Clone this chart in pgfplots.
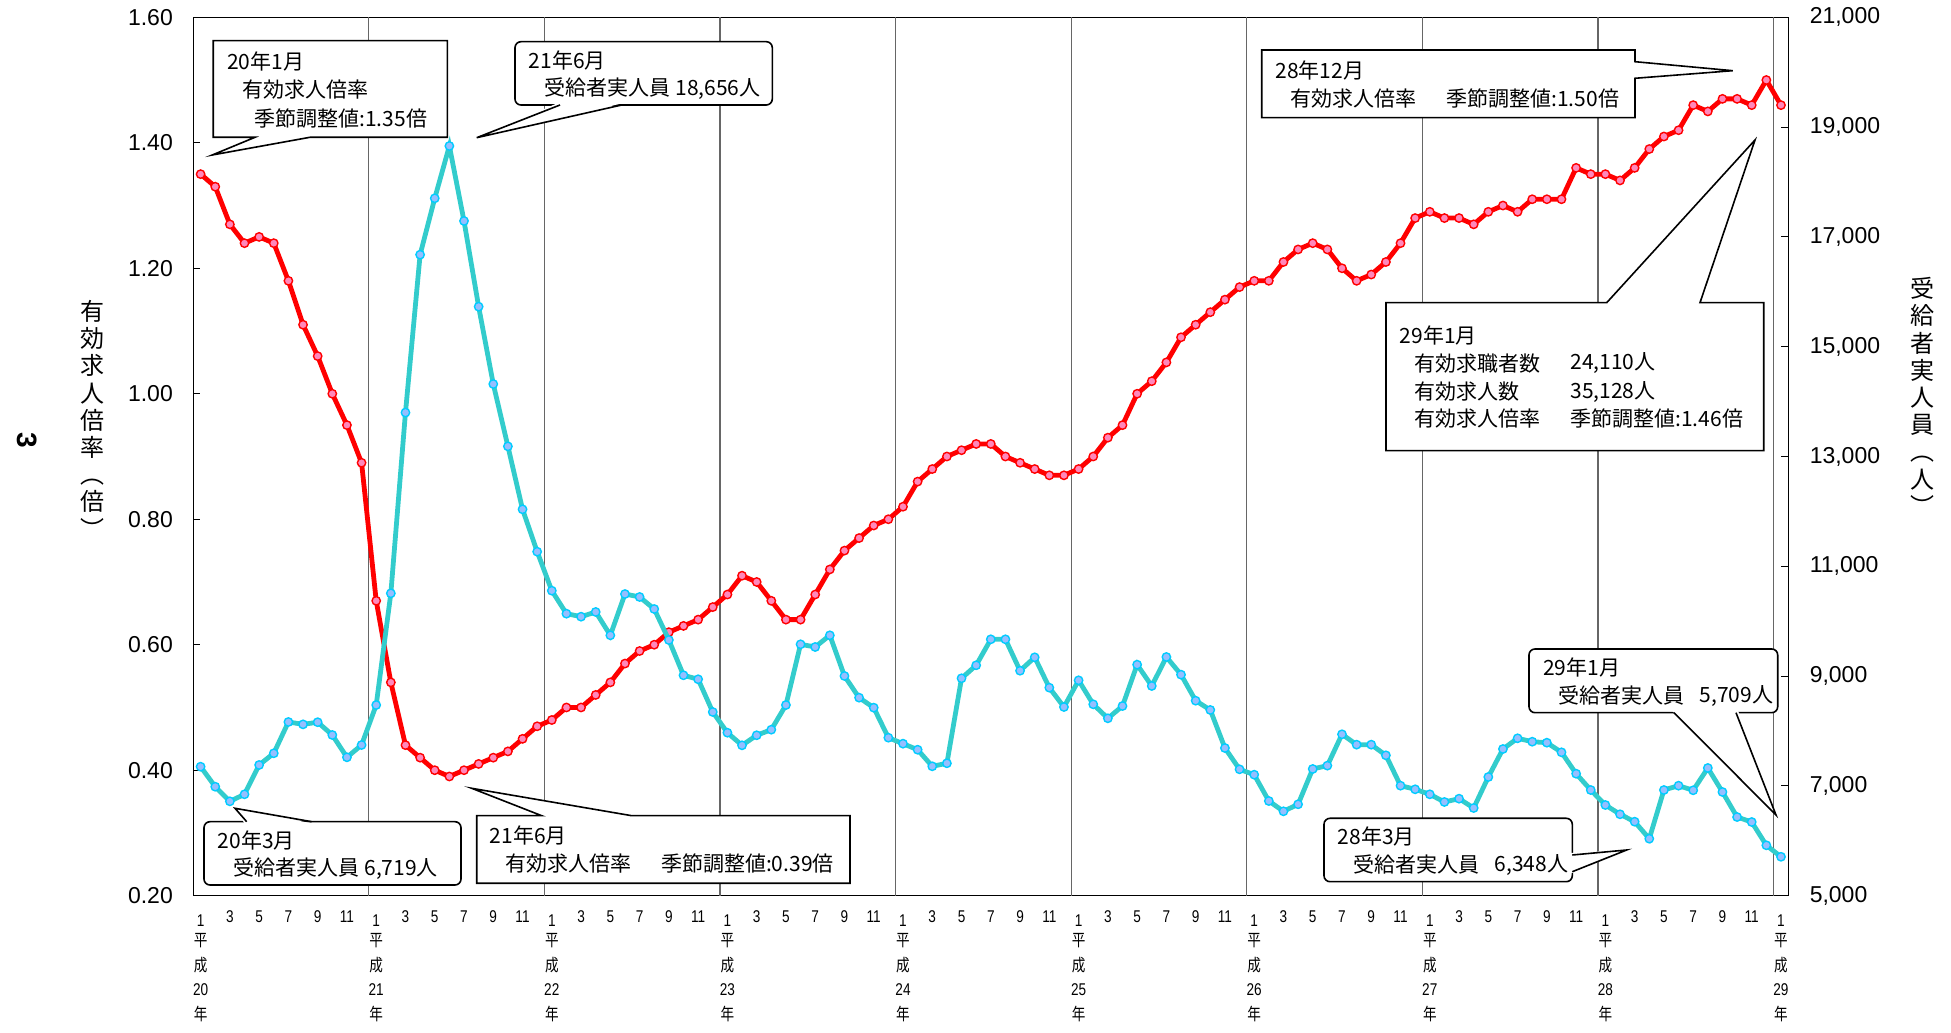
\documentclass[border=0pt]{standalone}
\usepackage{pgfplots}
\pgfplotsset{compat=1.18}
\usepackage{fontspec}
\setmainfont{Noto Sans CJK JP}
\newfontfamily\arialf{Liberation Sans}
\newfontfamily\narrowf[FakeStretch=0.8]{Liberation Sans}
\newfontfamily\narrowjp[FakeStretch=0.8]{Noto Sans CJK JP}
\definecolor{pinkfill}{RGB}{255,136,187}
\definecolor{cyanline}{RGB}{51,204,204}
\definecolor{cyanmark}{RGB}{0,204,255}
\definecolor{bluefill}{RGB}{150,190,255}
\newcommand\era[1]{\raisebox{-2pt}[\height]{1}\\{\narrowjp 平}\\{\narrowjp 成}\\#1\\{\narrowjp 年}}

\pgfplotstableread{
i r
0 1.35
1 1.33
2 1.27
3 1.24
4 1.25
5 1.24
6 1.18
7 1.11
8 1.06
9 1.00
10 0.95
11 0.89
12 0.67
13 0.54
14 0.44
15 0.42
16 0.40
17 0.39
18 0.40
19 0.41
20 0.42
21 0.43
22 0.45
23 0.47
24 0.48
25 0.50
26 0.50
27 0.52
28 0.54
29 0.57
30 0.59
31 0.60
32 0.62
33 0.63
34 0.64
35 0.66
36 0.68
37 0.71
38 0.70
39 0.67
40 0.64
41 0.64
42 0.68
43 0.72
44 0.75
45 0.77
46 0.79
47 0.80
48 0.82
49 0.86
50 0.88
51 0.90
52 0.91
53 0.92
54 0.92
55 0.90
56 0.89
57 0.88
58 0.87
59 0.87
60 0.88
61 0.90
62 0.93
63 0.95
64 1.00
65 1.02
66 1.05
67 1.09
68 1.11
69 1.13
70 1.15
71 1.17
72 1.18
73 1.18
74 1.21
75 1.23
76 1.24
77 1.23
78 1.20
79 1.18
80 1.19
81 1.21
82 1.24
83 1.28
84 1.29
85 1.28
86 1.28
87 1.27
88 1.29
89 1.30
90 1.29
91 1.31
92 1.31
93 1.31
94 1.36
95 1.35
96 1.35
97 1.34
98 1.36
99 1.39
100 1.41
101 1.42
102 1.46
103 1.45
104 1.47
105 1.47
106 1.46
107 1.50
108 1.46
}\ratio

\pgfplotstableread{
i p
0 7350
1 6985
2 6719
3 6847
4 7381
5 7594
6 8164
7 8121
8 8160
9 7927
10 7521
11 7745
12 8473
13 10508
14 13800
15 16676
16 17703
17 18656
18 17290
19 15729
20 14320
21 13185
22 12038
23 11266
24 10556
25 10137
26 10082
27 10168
28 9743
29 10495
30 10441
31 10222
32 9657
33 9015
34 8942
35 8346
36 7969
37 7739
38 7922
39 8024
40 8473
41 9579
42 9530
43 9743
44 9002
45 8607
46 8425
47 7878
48 7769
49 7659
50 7357
51 7412
52 8960
53 9197
54 9670
55 9670
56 9098
57 9342
58 8789
59 8437
60 8923
61 8486
62 8231
63 8455
64 9208
65 8820
66 9348
67 9026
68 8552
69 8383
70 7690
71 7302
72 7204
73 6725
74 6537
75 6665
76 7308
77 7369
78 7940
79 7751
80 7751
81 7557
82 7004
83 6938
84 6847
85 6707
86 6767
87 6597
88 7162
89 7672
90 7867
91 7805
92 7787
93 7612
94 7222
95 6925
96 6652
97 6483
98 6348
99 6038
100 6925
101 7004
102 6920
103 7326
104 6889
105 6433
106 6342
107 5918
108 5709
}\persons

\begin{document}
\begin{tikzpicture}
\begin{scope}[x=0.5pt,y=-0.5pt,shift={(-193.3,-895.7)}]
\useasboundingbox (0,0) rectangle (1951,1033);
\end{scope}

\begin{axis}[
  at={(0,0)}, anchor=south west,
  width=797.5pt, height=439.2pt, scale only axis,
  xmin=-0.5, xmax=108.5, ymin=0.2, ymax=1.6,
  axis line style={black, line width=0.6pt},
  ytick={0.2,0.4,...,1.6},
  ytick pos=left,
  tick align=inside,
  major tick length=3.5pt,
  ytick style={black, line width=0.5pt},
  /pgf/number format/assume math mode=true,
  yticklabel style={font=\fontsize{11.5}{13}\selectfont\arialf, xshift=-6.7pt,
     /pgf/number format/.cd, fixed, fixed zerofill, precision=2},
  xtick={0,2,...,108},
  xtick style={draw=none},
  xticklabels={\era{20},3,5,7,9,11,\era{21},3,5,7,9,11,\era{22},3,5,7,9,11,\era{23},3,5,7,9,11,\era{24},3,5,7,9,11,\era{25},3,5,7,9,11,\era{26},3,5,7,9,11,\era{27},3,5,7,9,11,\era{28},3,5,7,9,11,\era{29}},
  xticklabel style={font=\fontsize{8.5}{12.25}\selectfont\narrowf, align=center, anchor=north, yshift=-3.8pt},
  extra x ticks={11.5,23.5,35.5,47.5,59.5,71.5,83.5,95.5,107.5},
  extra x tick labels={},
  extra x tick style={grid=major, major grid style={draw=black!60, line width=0.6pt}, tick style={draw=none}},
]
\addplot[red, line width=2.4pt, mark=*, mark size=2.1pt,
  mark options={fill=pinkfill, draw=red, line width=0.7pt}] table[x=i,y=r] {\ratio};
\end{axis}

\begin{axis}[
  at={(0,0)}, anchor=south west,
  width=797.5pt, height=439.2pt, scale only axis,
  xmin=-0.5, xmax=108.5, ymin=5000, ymax=21000,
  axis x line=none,
  axis y line*=right,
  axis line style={black, line width=0.6pt},
  tick align=inside,
  major tick length=3.5pt,
  ytick style={black, line width=0.5pt},
  ytick={5000,7000,...,21000},
  scaled y ticks=false,
  /pgf/number format/assume math mode=true,
  yticklabel style={font=\fontsize{11.5}{13}\selectfont\arialf, xshift=7.2pt,
     /pgf/number format/.cd, fixed, 1000 sep={,}},
]
\addplot[cyanline, line width=2.4pt, mark=*, mark size=2.1pt,
  mark options={fill=bluefill, draw=cyanmark, line width=0.7pt}] table[x=i,y=p] {\persons};
\end{axis}

\begin{scope}[x=0.5pt,y=-0.5pt,shift={(-193.3,-895.7)}]
% axis titles
\node[anchor=north, align=center, inner sep=0, font=\fontsize{12}{13.6}\selectfont] at (93,300)
  {有\\効\\求\\人\\倍\\率\\︵\\倍\\︶};
\node[anchor=north, align=center, inner sep=0, font=\fontsize{12}{13.6}\selectfont] at (1922,277)
  {受\\給\\者\\実\\人\\員\\︵\\人\\︶};
\node[rotate=-90, inner sep=0, font=\fontsize{14}{14}\selectfont\arialf\bfseries] at (26.7,440) {3};

\tikzset{ct/.style={anchor=west, inner sep=0, font=\fontsize{10.5}{12}\selectfont}}
% Box A
\draw[line width=0.8pt, fill=white] (213.3,40.7) -- (447.3,40.7) -- (447.3,137.3) -- (310,137.3) -- (212.3,155) -- (255,137.3) -- (213.3,137.3) -- cycle;
\node[ct] at (226.7,61.7) {20年1月};
\node[ct] at (241.7,90) {有効求人倍率};
\node[ct] at (254,118.3) {季節調整値:1.35倍};
% Box B
\draw[line width=0.8pt, fill=white, rounded corners=3pt] (515,41.7) rectangle (772.3,105);
\fill[white] (558,103) -- (476.7,137.7) -- (623.7,103) -- cycle;
\draw[line width=0.8pt] (560,105) -- (476.7,137.7) -- (621.7,105);
\node[ct] at (528.3,60) {21年6月};
\node[ct] at (544.3,88.3) {受給者実人員 18,656人};
% Box C
\draw[line width=0.8pt, fill=white, rounded corners=3pt] (204,821.7) rectangle (461,885);
\fill[white] (244.7,823.7) -- (235,808.3) -- (313.7,823.7) -- cycle;
\draw[line width=0.8pt] (246.7,821.7) -- (235,808.3) -- (311.7,821.7);
\node[ct] at (217.3,840) {20年3月};
\node[ct] at (233.3,868.3) {受給者実人員 6,719人};
% Box D
\draw[line width=0.8pt, fill=white] (476.7,815.7) -- (541.7,815.7) -- (471.7,788.3) -- (631.7,815.7) -- (850,815.7) -- (850,883.3) -- (476.7,883.3) -- cycle;
\node[ct] at (489.3,835) {21年6月};
\node[ct] at (505,863.3) {有効求人倍率};
\node[ct] at (660.7,863.3) {季節調整値:0.39倍};
% Box E
\draw[line width=0.8pt, fill=white] (1261.7,50) -- (1635,50) -- (1635,61.7) -- (1732.7,70.7) -- (1635,78.3) -- (1635,117.7) -- (1261.7,117.7) -- cycle;
\node[ct] at (1275,70) {28年12月};
\node[ct] at (1290,99) {有効求人倍率};
\node[ct] at (1446,99) {季節調整値:1.50倍};
% Box F
\draw[line width=0.8pt, fill=white] (1386,302.7) -- (1606.7,302.7) -- (1755,140) -- (1700,302.7) -- (1763.7,302.7) -- (1763.7,450.7) -- (1386,450.7) -- cycle;
\node[ct] at (1399.3,335) {29年1月};
\node[ct] at (1414.3,363.3) {有効求職者数};
\node[ct] at (1414.3,391.7) {有効求人数};
\node[ct] at (1414.3,418.3) {有効求人倍率};
\node[ct] at (1570,363.3) {24,110人};
\node[ct] at (1570,391.7) {35,128人};
\node[ct] at (1570,418.3) {季節調整値:1.46倍};
% Box G
\draw[line width=0.8pt, fill=white, rounded corners=3pt] (1324,818.3) rectangle (1572.3,881.7);
\fill[white] (1570.3,853) -- (1626.7,850) -- (1570.3,873.7) -- cycle;
\draw[line width=0.8pt] (1572.3,855) -- (1626.7,850) -- (1572.3,871.7);
\node[ct] at (1337.3,836.7) {28年3月};
\node[ct] at (1353.3,865) {受給者実人員};
\node[ct] at (1494.3,865) {6,348人};
% Box H
\draw[line width=0.8pt, fill=white, rounded corners=3pt] (1529,649) rectangle (1777.7,712.7);
\fill[white] (1672,710.7) -- (1776,815) -- (1738,710.7) -- cycle;
\draw[line width=0.8pt] (1674,712.7) -- (1776,815) -- (1736,712.7);
\node[ct] at (1542.7,667.7) {29年1月};
\node[ct] at (1558.3,695.7) {受給者実人員};
\node[ct] at (1699.3,695.7) {5,709人};
\end{scope}
\end{tikzpicture}
\end{document}
